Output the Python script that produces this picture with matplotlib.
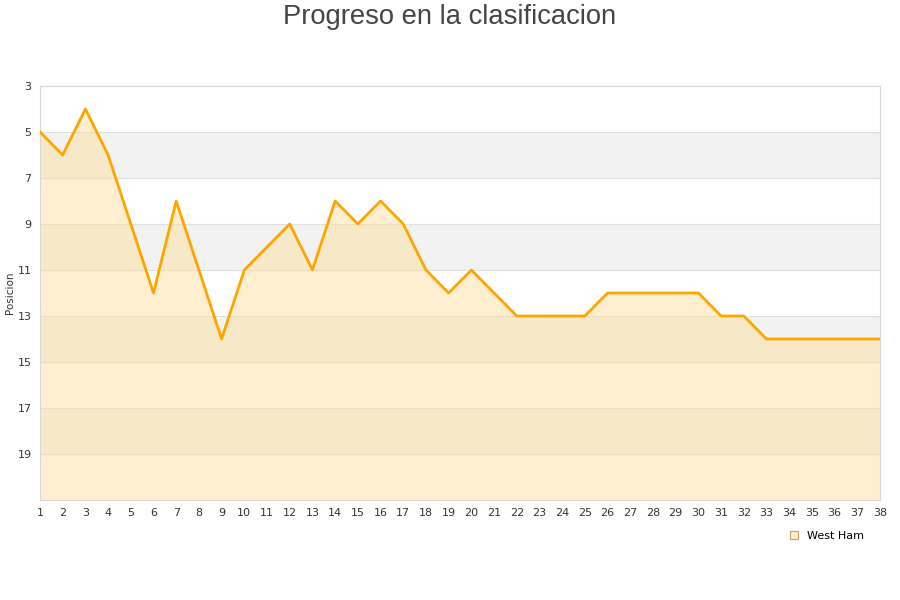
import matplotlib.pyplot as plt
from matplotlib.patches import Patch

jornadas = list(range(1, 39))
posiciones = [5, 6, 4, 6, 9, 12, 8, 11, 14, 11, 10, 9, 11, 8, 9, 8, 9, 11, 12, 11,
              12, 13, 13, 13, 13, 12, 12, 12, 12, 12, 13, 13, 14, 14, 14, 14, 14, 14]
y_ticks = [3, 5, 7, 9, 11, 13, 15, 17, 19]
equipo = "West Ham"


def main() -> None:
    fig = plt.figure(figsize=(9, 6), dpi=100)
    ax = fig.add_axes([40 / 900, 100 / 600, 840 / 900, 414 / 600])

    # franjas alternas de fondo
    for i, lo in enumerate(range(3, 21, 2)):
        if i % 2 == 1:
            ax.axhspan(lo, lo + 2, color="#f2f2f2", zorder=0, lw=0)
    for t in y_ticks[1:]:
        ax.axhline(t, color="#e0e0e0", lw=0.8, zorder=1)

    ax.fill_between(jornadas, posiciones, 21, color="#ffd98a", alpha=0.4, lw=0, zorder=2)
    ax.plot(jornadas, posiciones, color="#ffa500", lw=2.0, zorder=3)

    ax.set_xlim(1, 38)
    ax.set_ylim(21, 3)
    ax.set_xticks(jornadas)
    ax.set_yticks(y_ticks)
    ax.tick_params(length=0, labelsize=8, colors="#333333", pad=6)
    for s in ax.spines.values():
        s.set_color("#d8d8d8")
        s.set_linewidth(0.8)
    ax.set_ylabel("Posicion", fontsize=7.5, color="#333333", labelpad=2)

    fig.text(0.5, 1 - 17 / 600, "Progreso en la clasificacion", fontsize=19.7,
             family="Liberation Sans", color="#444444", ha="center", va="center")

    handle = Patch(facecolor="#ffedcc", edgecolor="#c8a060", lw=0.8)
    fig.legend([handle], [equipo], loc="center", bbox_to_anchor=(827 / 900, 1 - 536 / 600),
               frameon=False, fontsize=8, handlelength=0.7, handleheight=0.7, handletextpad=0.8)

    fig.savefig("out.png", dpi=100)


if __name__ == "__main__":
    main()
